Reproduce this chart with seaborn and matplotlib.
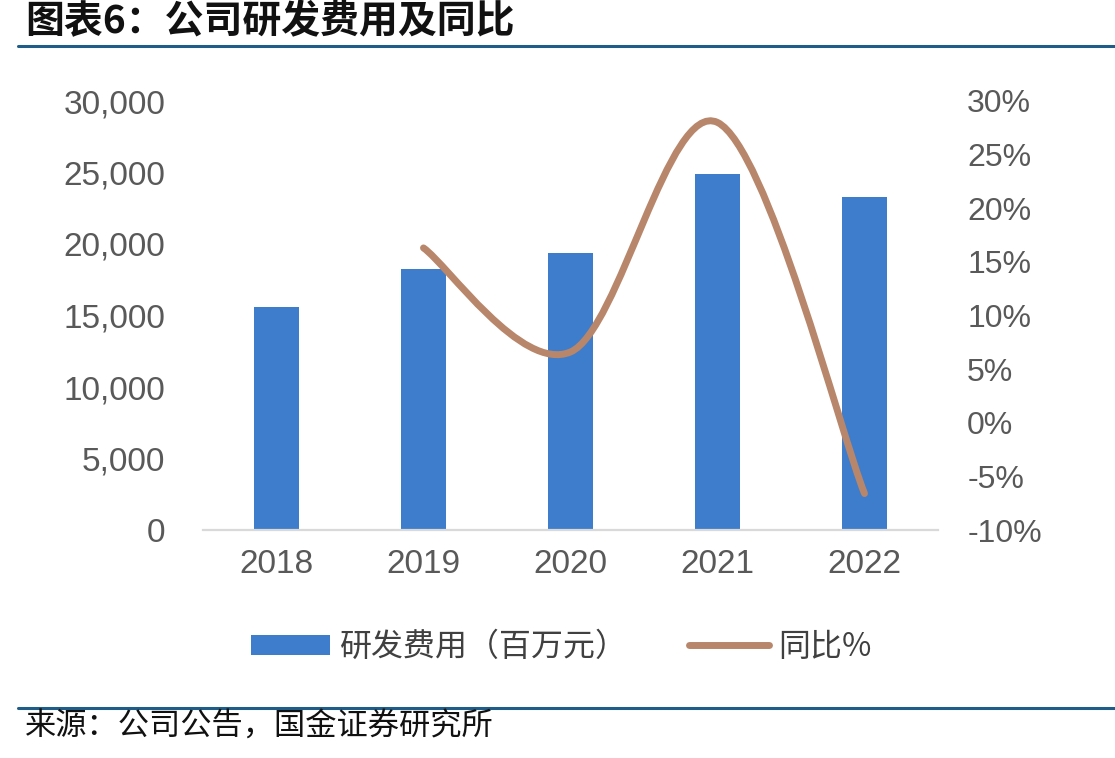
import numpy as np
import pandas as pd
import matplotlib
matplotlib.use("Agg")
import matplotlib.pyplot as plt
from matplotlib.path import Path
from matplotlib.patches import PathPatch, Patch
from matplotlib.lines import Line2D
from matplotlib.ticker import FuncFormatter
import seaborn as sns

# ---- data ----
years = ["2018", "2019", "2020", "2021", "2022"]
rd_expense = [15600, 18250, 19400, 24900, 23300]          # 研发费用（百万元）
yoy_pct = [None, 16.3, 6.6, 28.0, -6.6]                    # 同比%
left_ticks = [0, 5000, 10000, 15000, 20000, 25000, 30000]
right_ticks = [-10, -5, 0, 5, 10, 15, 20, 25, 30]
title = "图表6：公司研发费用及同比"
source = "来源：公司公告，国金证券研究所"
bar_label = "研发费用（百万元）"
line_label = "同比%"

sns.set_theme(style="white")
plt.rcParams["font.family"] = ["Liberation Sans", "Noto Sans CJK SC", "DejaVu Sans"]

BAR = "#3D7DCC"
LINE = "#B8866A"
TICK = "#595959"
RULE = "#1F5C87"
CJK = ["Noto Sans CJK SC", "DejaVu Sans"]

W, H = 1115, 758
fig = plt.figure(figsize=(W / 100, H / 100), dpi=100)
ax = fig.add_axes([203 / W, 1 - 530 / H, (938 - 203) / W, (530 - 101) / H])

df = pd.DataFrame({"year": years, "value": rd_expense})
sns.barplot(data=df, x="year", y="value", color=BAR, width=0.31, ax=ax,
            saturation=1, edgecolor="none")
ax.set_xlim(-0.5, len(years) - 0.5)
ax.set_ylim(left_ticks[0], left_ticks[-1])
ax.set_yticks(left_ticks)
ax.yaxis.set_major_formatter(FuncFormatter(lambda v, p: f"{int(v):,}"))
ax.set_xlabel("")
ax.set_ylabel("")
for s in ["top", "right", "left"]:
    ax.spines[s].set_visible(False)
ax.spines["bottom"].set_color("#D9D9D9")
ax.spines["bottom"].set_linewidth(1.6)
ax.tick_params(axis="y", length=0, pad=27, labelsize=24, labelcolor=TICK)
ax.tick_params(axis="x", length=0, pad=14, labelsize=24, labelcolor=TICK)

ax2 = ax.twinx()
ax2.set_ylim(right_ticks[0], right_ticks[-1])
ax2.set_yticks(right_ticks)
ax2.yaxis.set_major_formatter(FuncFormatter(lambda v, p: f"{int(v)}%"))
for s in ax2.spines.values():
    s.set_visible(False)
ax2.tick_params(axis="y", length=0, pad=21, labelsize=23, labelcolor=TICK)

# smoothed line (Bezier through the data points, like Excel's smoothed line)
pts = [(i, v) for i, v in enumerate(yoy_pct) if v is not None]
P = np.array(pts, dtype=float)
n = len(P)
verts = [tuple(P[0])]
codes = [Path.MOVETO]
for i in range(n - 1):
    p0 = P[i - 1] if i > 0 else P[i]
    p1, p2 = P[i], P[i + 1]
    p3 = P[i + 2] if i + 2 < n else P[i + 1]
    c1 = p1 + (p2 - p0) / 6.0
    c2 = p2 - (p3 - p1) / 6.0
    verts += [tuple(c1), tuple(c2), tuple(p2)]
    codes += [Path.CURVE4] * 3
curve = PathPatch(Path(verts, codes), facecolor="none", edgecolor=LINE,
                  lw=5, capstyle="round", joinstyle="round",
                  transform=ax2.transData, zorder=3)
ax2.add_patch(curve)

# legend
handles = [Patch(facecolor=BAR, edgecolor="none", label=bar_label),
           Line2D([], [], color=LINE, lw=5, solid_capstyle="round", label=line_label)]
fig.legend(handles=handles, loc="center", bbox_to_anchor=(561 / W, 1 - 647 / H),
           ncol=2, frameon=False, prop={"family": CJK, "size": 23},
           labelcolor="#404040", handlelength=2.5, handleheight=0.6,
           handletextpad=0.3, columnspacing=1.9)

# title, rules, source
fig.text(25 / W, 1 - 22 / H, title, ha="left", va="center",
         fontsize=28, family=CJK, fontweight="bold", color="#111111")
fig.add_artist(Line2D([18 / W, 1], [1 - 46 / H] * 2, color=RULE, lw=2.2))
fig.add_artist(Line2D([18 / W, 1], [1 - 708 / H] * 2, color=RULE, lw=2.2))
fig.text(25 / W, 1 - 727 / H, source, ha="left", va="center",
         fontsize=22.5, family=CJK, color="#111111")

fig.savefig("out.png", dpi=100)
